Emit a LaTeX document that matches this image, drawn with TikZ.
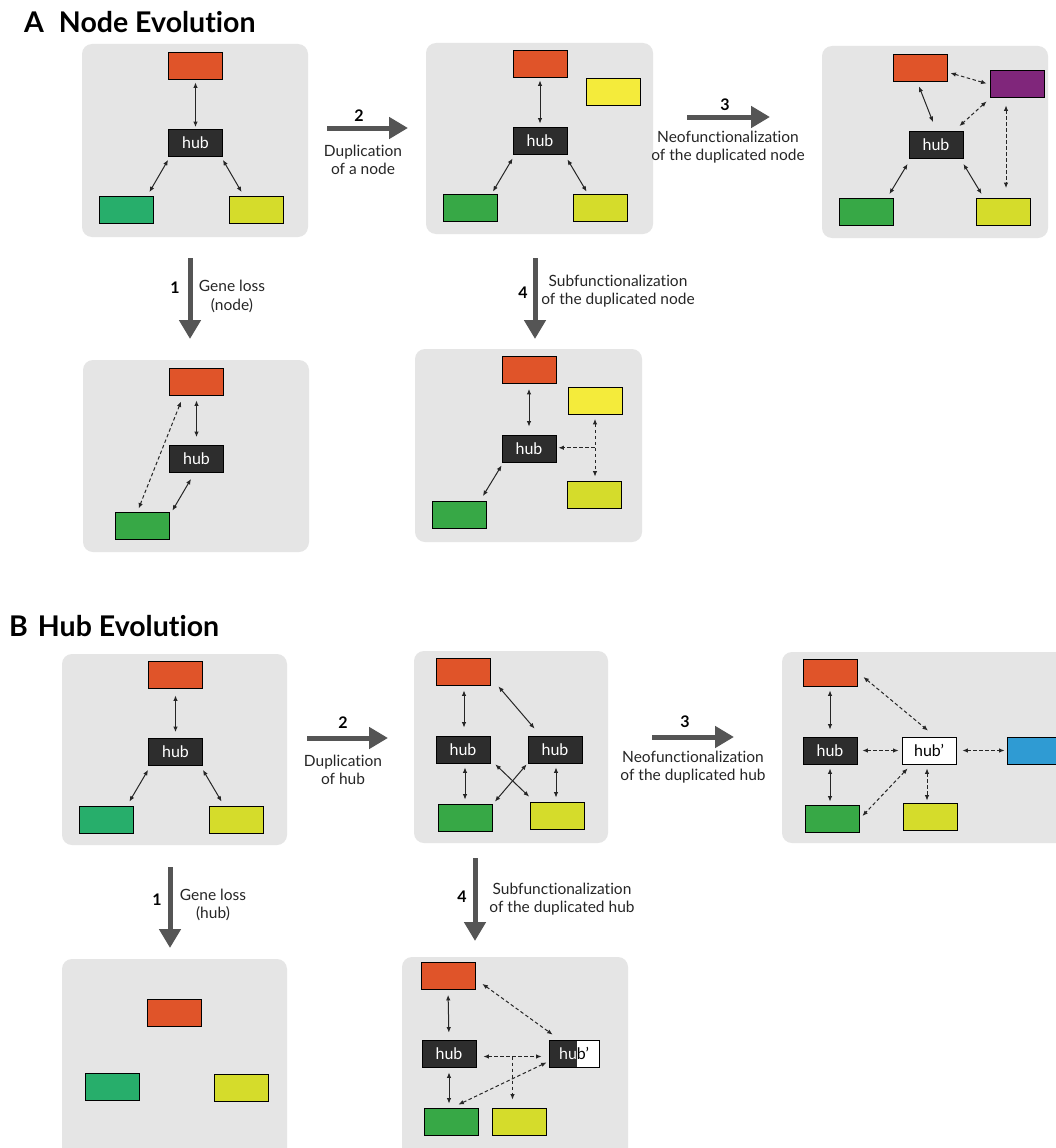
\documentclass[tikz,border=0pt]{standalone}
\usepackage{fontspec}
\setmainfont{Lato}[Ligatures={NoCommon,NoRare,NoContextual}]
\usetikzlibrary{arrows.meta,calc}
\definecolor{panelc}{HTML}{E5E5E5}
\definecolor{orc}{HTML}{E05429}
\definecolor{tealc}{HTML}{27AE6B}
\definecolor{grc}{HTML}{37A846}
\definecolor{olc}{HTML}{D5DC2B}
\definecolor{ybc}{HTML}{F4EB3B}
\definecolor{puc}{HTML}{80267B}
\definecolor{blc}{HTML}{2F9BD3}
\definecolor{hubc}{HTML}{2D2D2D}
\definecolor{arrc}{HTML}{555555}
\newcommand\lblfont{\fontsize{15.5}{18.5}\selectfont}
\newcommand\hubfont{\fontsize{16}{18}\selectfont}
\begin{document}
\begin{tikzpicture}[x=1pt,y=-1pt,
  >={Latex[length=5.5pt,width=4.5pt]},
  box/.style={draw=black, line width=0.8pt, minimum width=54pt, minimum height=27pt, inner sep=0pt, fill=#1},
  hubbox/.style={box=hubc, text=white, font=\hubfont},
  link/.style={<->, line width=1pt, draw=black!85},
  dlink/.style={link, dash pattern=on 3.5pt off 2.5pt},
  bigarr/.style={draw=arrc, line width=5pt, -{Triangle[length=19pt,width=21pt]}},
  lbl/.style={font=\lblfont, align=center, inner sep=0pt, text=black!85},
  num/.style={font=\fontsize{16}{18}\selectfont\bfseries, inner sep=0pt},
  ttl/.style={font=\fontsize{28.5}{30}\selectfont\bfseries, anchor=west, inner sep=0pt},
  panel/.style={fill=panelc, rounded corners=10pt}]
\clip (0,0) rectangle (1056,1148);
\fill[white] (0,0) rectangle (1056,1148);

% ---------------- titles
\node[ttl] (tA) at (24,22) {A\hspace{15pt}Node Evolution};
\node[ttl] (tB) at (9,626) {B\hspace{10pt}Hub Evolution};

% ================= A1
\fill[panel] (82,44) rectangle (308,237);
\node[box=orc] (a1o) at (195.5,65.5) {};
\node[hubbox] (a1h) at (195.5,143) {hub};
\node[box=tealc] (a1g) at (126,210) {};
\node[box=olc] (a1y) at (256,210) {};
\draw[link, shorten <=3pt, shorten >=2pt] (a1o) -- (a1h);
\draw[link] ([yshift=-3pt]a1h.south west) -- ([xshift=-4pt,yshift=4pt]a1g.north east);
\draw[link] ([yshift=-3pt]a1h.south east) -- ([xshift=13pt,yshift=4pt]a1y.north west);

% ================= A2
\fill[panel] (426,43) rectangle (653,234);
\node[box=orc] (a2o) at (540,63.5) {};
\node[box=ybc] (a2b) at (613,92) {};
\node[hubbox] (a2h) at (540,140.5) {hub};
\node[box=grc] (a2g) at (470.5,207.5) {};
\node[box=olc] (a2y) at (600,207.5) {};
\draw[link, shorten <=3pt, shorten >=3pt] (a2o) -- (a2h);
\draw[link] ([yshift=-4pt]a2h.south west) -- ([xshift=-5pt,yshift=2pt]a2g.north east);
\draw[link] ([yshift=-5pt]a2h.south east) -- ([xshift=14pt,yshift=2pt]a2y.north west);

% ================= A3
\fill[panel] (822,46) rectangle (1048,238);
\node[box=orc] (a3o) at (920,67.5) {};
\node[box=puc] (a3p) at (1017,83.5) {};
\node[hubbox] (a3h) at (936,145) {hub};
\node[box=grc] (a3g) at (866,212) {};
\node[box=olc] (a3y) at (1003,212) {};
\draw[link] ([xshift=-1pt,yshift=-5pt]a3o.south) -- ([xshift=-3pt,yshift=9pt]a3h.north);
\draw[dlink] ([xshift=3pt,yshift=-5.5pt]a3o.east) -- ([xshift=-3pt]a3p.west);
\draw[dlink] ([xshift=-3pt,yshift=-4pt]a3p.south west) -- ([xshift=-4pt,yshift=5pt]a3h.north east);
\draw[dlink] ([xshift=-11pt,yshift=-8pt]a3p.south) -- ([xshift=3pt,yshift=10pt]a3y.north);
\draw[link] ([xshift=-1pt,yshift=-5pt]a3h.south west) -- ([xshift=-4pt,yshift=4pt]a3g.north east);
\draw[link] ([yshift=-5pt]a3h.south east) -- ([xshift=6pt,yshift=4pt]a3y.north west);

% ================= A4
\fill[panel] (83,360) rectangle (309,552);
\node[box=orc] (a4o) at (196.5,381.5) {};
\node[hubbox] (a4h) at (196.5,459) {hub};
\node[box=grc] (a4g) at (142,525.5) {};
\draw[link, shorten <=5pt, shorten >=8pt] (a4o.south) -- (a4h.north);
\draw[dlink] ([xshift=12pt,yshift=-6pt]a4o.south west) -- ([xshift=24pt,yshift=3pt]a4g.north west);
\draw[link] ([xshift=-5.5pt,yshift=-6pt]a4h.south) -- ([xshift=3pt,yshift=1pt]a4g.north east);

% ================= A5
\fill[panel] (415,349) rectangle (642,542);
\node[box=orc] (a5o) at (529,370) {};
\node[box=ybc] (a5b) at (595,401) {};
\node[hubbox] (a5h) at (529,448.5) {hub};
\node[box=olc] (a5y) at (594,494.5) {};
\node[box=grc] (a5g) at (459.5,515) {};
\draw[link, shorten <=5pt, shorten >=8pt] (a5o.south) -- (a5h.north);
\draw[dlink] ([yshift=-4pt]a5b.south) -- ([xshift=1pt,yshift=4pt]a5y.north);
\coordinate (a5m) at ($(a5b.south)!0.5!(a5y.north)$);
\draw[dlink, ->, shorten >=2pt] (a5m) -- (a5m -| a5h.east);
\draw[link] ([yshift=-3pt]a5h.south west) -- ([xshift=-4pt,yshift=5pt]a5g.north east);

% ================= B1
\fill[panel] (62,654) rectangle (287,845);
\node[box=orc] (b1o) at (175.5,674.5) {};
\node[hubbox] (b1h) at (175.5,752) {hub};
\node[box=tealc] (b1g) at (106,819.5) {};
\node[box=olc] (b1y) at (236,819.5) {};
\draw[link, shorten <=7pt, shorten >=6pt] (b1o.south) -- (b1h.north);
\draw[link] ([yshift=-4pt]b1h.south west) -- ([xshift=-4pt,yshift=4pt]b1g.north east);
\draw[link] ([yshift=-4pt]b1h.south east) -- ([xshift=13pt,yshift=4pt]b1y.north west);

% ================= B2
\fill[panel] (414,651) rectangle (608,843);
\node[box=orc] (b2o) at (463,671.5) {};
\node[hubbox] (b2h1) at (463,749.5) {hub};
\node[hubbox] (b2h2) at (555,749.5) {hub};
\node[box=grc] (b2g) at (465.5,817.5) {};
\node[box=olc] (b2y) at (557.5,815.5) {};
\draw[link, shorten <=5pt, shorten >=8pt] ([xshift=1pt]b2o.south) -- ([xshift=1pt]b2h1.north);
\draw[link] ([xshift=8pt,yshift=-1pt]b2o.south east) -- ([xshift=7pt,yshift=7pt]b2h2.north west);
\draw[link, shorten <=4pt, shorten >=4pt] ([xshift=2pt]b2h1.south) -- ([xshift=-0.5pt]b2g.north);
\draw[link, shorten <=4pt, shorten >=4pt] ([xshift=1pt]b2h2.south) -- ([xshift=-1.5pt]b2y.north);
\draw[link] ([xshift=5pt,yshift=-1pt]b2h1.south east) -- ([xshift=-1pt,yshift=5pt]b2y.north west);
\draw[link] ([xshift=-1pt,yshift=-1pt]b2h2.south west) -- ([xshift=2pt,yshift=2pt]b2g.north east);

% ================= B3
\fill[panel] (782,652) rectangle (1070,843);
\node[box=orc] (b3o) at (830,672.5) {};
\node[hubbox] (b3h) at (830,750.5) {hub};
\node[box=white, font=\hubfont] (b3hp) at (929,750.5) {hub’};
\node[box=blc] (b3bl) at (1034,750.5) {};
\node[box=grc] (b3g) at (832,818.5) {};
\node[box=olc] (b3y) at (930,816.5) {};
\draw[link, shorten <=4pt, shorten >=7pt] (b3o.south) -- (b3h.north);
\draw[link, shorten <=4pt, shorten >=3pt] (b3h.south) -- ([xshift=-2pt]b3g.north);
\draw[dlink, shorten <=5pt, shorten >=3pt] (b3h.east) -- (b3hp.west);
\draw[dlink, shorten <=6pt, shorten >=2pt] (b3hp.east) -- (b3bl.west);
\draw[dlink] ([xshift=6pt,yshift=-4.5pt]b3o.east) -- ([xshift=-1pt,yshift=6pt]b3hp.north);
\draw[dlink, shorten <=4pt, shorten >=2pt] ([xshift=-2pt]b3hp.south) -- ([xshift=-3pt]b3y.north);
\draw[dlink] ([xshift=6pt,yshift=-4pt]b3hp.south west) -- ([xshift=3pt,yshift=2.5pt]b3g.east);

% ================= B4
\fill[panel] (62,959) rectangle (287,1160);
\node[box=orc] (b4o) at (174,1013) {};
\node[box=tealc] (b4g) at (112,1086.5) {};
\node[box=olc] (b4y) at (241,1087.5) {};

% ================= B5
\fill[panel] (402,957) rectangle (628,1160);
\node[box=orc] (b5o) at (448,976) {};
\node[hubbox] (b5h) at (449,1053.5) {hub};
\node[box=white, minimum width=50pt, path picture={
   \fill[hubc] (path picture bounding box.north west) rectangle ([xshift=28pt]path picture bounding box.south west);
   \node[text=black, font=\hubfont] (b5hpA) at (path picture bounding box.center) {hub’};
   \clip (path picture bounding box.north west) rectangle ([xshift=28pt]path picture bounding box.south west);
   \node[text=white, font=\hubfont] (b5hpB) at (path picture bounding box.center) {hub’};
 }] (b5hp) at (574,1053.5) {};
\node[box=grc] (b5g) at (451,1121.5) {};
\node[box=olc] (b5y) at (519,1121.5) {};
\draw[link, shorten <=5pt, shorten >=7pt] (b5o.south) -- (b5h.north);
\draw[link, shorten <=5pt, shorten >=4pt] (b5h.south) -- ([xshift=-2pt]b5g.north);
\draw[dlink] ([xshift=7pt,yshift=6pt]b5o.south east) -- ([xshift=4pt,yshift=5pt]b5hp.north west);
\draw[dlink] ([xshift=7pt,yshift=-3pt]b5h.east) -- ([xshift=-7pt,yshift=-3pt]b5hp.west);
\coordinate (b5m) at ($([yshift=-3pt]b5h.east)!0.5!([yshift=-3pt]b5hp.west)$);
\draw[dlink, ->, shorten >=8pt] (b5m) -- (b5m |- b5y.north);
\draw[dlink] ([xshift=-2pt,yshift=5pt]b5hp.south west) -- ([xshift=-20pt,yshift=3pt]b5g.north east);

% ================= big arrows and labels
% A2
\coordinate (s2a) at (327,128); \coordinate (e2a) at (408,128);
\draw[bigarr] (s2a) -- (e2a);
\node[num] (n2a) at (359,116) {2};
\node[lbl] (l2a) at (363,160) {Duplication\\of a node};
% A3
\coordinate (s3a) at (687,117); \coordinate (e3a) at (770,117);
\draw[bigarr] (s3a) -- (e3a);
\node[num] (n3a) at (725,105) {3};
\node[lbl] (l3a) at (728,147) {Neofunctionalization\\of the duplicated node};
% A1
\coordinate (s1a) at (190,258); \coordinate (e1a) at (190,339);
\draw[bigarr] (s1a) -- (e1a);
\node[num] (n1a) at (175,288) {1};
\node[lbl] (l1a) at (232,296.5) {Gene loss\\(node)};
% A4
\coordinate (s4a) at (535,258); \coordinate (e4a) at (535,339);
\draw[bigarr] (s4a) -- (e4a);
\node[num] (n4a) at (523,293) {4};
\node[lbl] (l4a) at (618,291) {Subfunctionalization\\of the duplicated node};
% B2
\coordinate (s2b) at (307,738); \coordinate (e2b) at (388,738);
\draw[bigarr] (s2b) -- (e2b);
\node[num] (n2b) at (343,723) {2};
\node[lbl] (l2b) at (343,770) {Duplication\\of hub};
% B3
\coordinate (s3b) at (652,737); \coordinate (e3b) at (734,737);
\draw[bigarr] (s3b) -- (e3b);
\node[num] (n3b) at (685,722) {3};
\node[lbl] (l3b) at (693,767) {Neofunctionalization\\of the duplicated hub};
% B1
\coordinate (s1b) at (170,867); \coordinate (e1b) at (170,948);
\draw[bigarr] (s1b) -- (e1b);
\node[num] (n1b) at (157,900) {1};
\node[lbl] (l1b) at (213,905) {Gene loss\\(hub)};
% B4
\coordinate (s4b) at (475,858); \coordinate (e4b) at (475,941);
\draw[bigarr] (s4b) -- (e4b);
\node[num] (n4b) at (462,897) {4};
\node[lbl] (l4b) at (562,899) {Subfunctionalization\\of the duplicated hub};
\end{tikzpicture}
\end{document}
